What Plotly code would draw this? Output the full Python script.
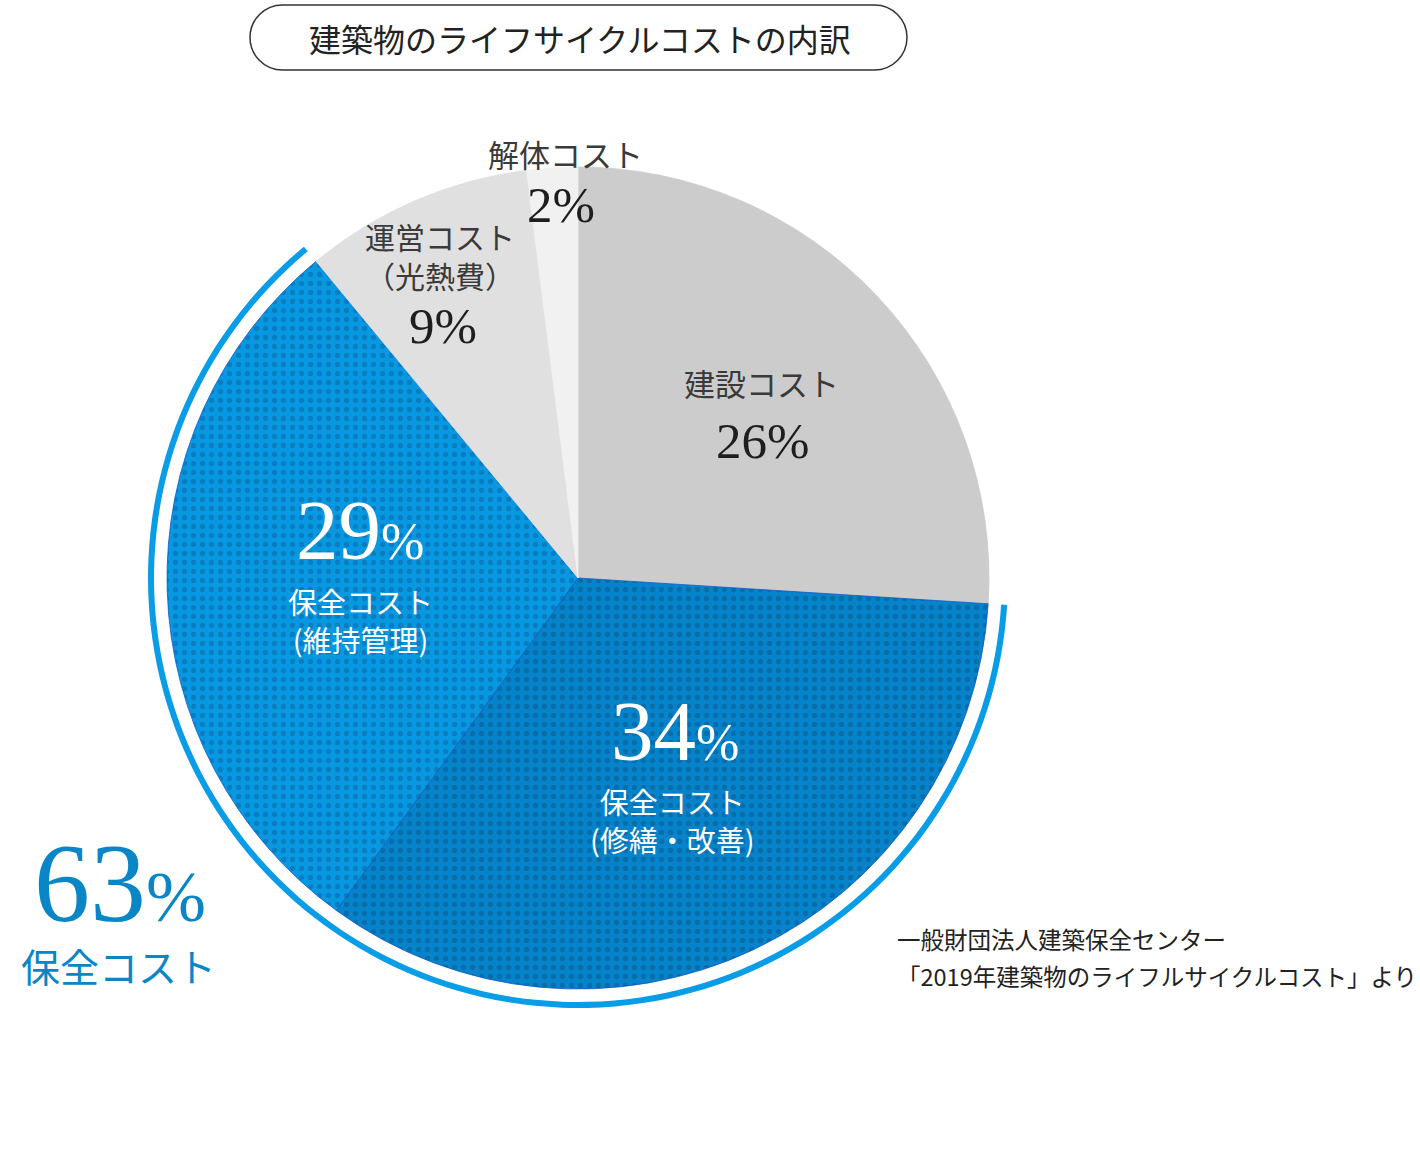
import plotly.graph_objects as go

W, H = 1420, 1158

# data
categories = ['建設コスト', '保全コスト(修繕・改善)', '保全コスト(維持管理)', '運営コスト(光熱費)', '解体コスト']
shares = [26, 34, 29, 9, 2]
slice_colors = ['#cccccc', '#0584cb', '#0798e2', '#e0e0e0', '#f1f1f1']
dot_colors = ['#cccccc', '#09568c', '#0a62a0', '#e0e0e0', '#f1f1f1']
maint_total = shares[1] + shares[2]

title_text = '建築物のライフサイクルコストの内訳'
source_lines = ['一般財団法人建築保全センター', '「2019年建築物のライフルサイクルコスト」より']

CJK = 'Noto Sans CJK JP, Noto Sans, sans-serif'
SERIF = 'Liberation Serif, DejaVu Serif, serif'


def px(x):
    return x / W


def py(y):
    return 1 - y / H


def dom(cx, cy, r):
    return dict(x=[px(cx - r), px(cx + r)], y=[py(cy + r), py(cy - r)])


fig = go.Figure()

# outer ring marking the two maintenance slices
fig.add_trace(go.Pie(
    values=[shares[0], maint_total, sum(shares[3:])],
    sort=False, direction='clockwise', rotation=0,
    hole=0.986,
    marker=dict(colors=['rgba(0,0,0,0)', '#089de6', 'rgba(0,0,0,0)'], line=dict(width=0)),
    textinfo='none', hoverinfo='skip', showlegend=False,
    domain=dom(578, 578, 430),
))

# main pie
fig.add_trace(go.Pie(
    labels=categories, values=shares,
    sort=False, direction='clockwise', rotation=0,
    marker=dict(
        colors=slice_colors,
        line=dict(color=['#cccccc', '#1459c4', '#1459c4', '#e0e0e0', '#f1f1f1'], width=0.8),
        pattern=dict(shape=['', '.', '.', '', ''], fgcolor=dot_colors, bgcolor=slice_colors,
                     size=9, solidity=0.28, fillmode='overlay'),
    ),
    textinfo='none', hoverinfo='label+percent', showlegend=False,
    domain=dom(578, 578, 411),
))

ann = []


def label(text, x, y, size, color, family=CJK, xanchor='center'):
    ann.append(dict(text=text, x=px(x), y=py(y), xref='paper', yref='paper',
                    xanchor=xanchor, yanchor='middle', showarrow=False,
                    font=dict(size=size, color=color, family=family)))


def pct(v, small=None):
    return f"{v}<span style='font-size:{small}px'>%</span>" if small else f"{v}%"


# grey slices
label(categories[4], 565, 153, 31, '#3a3a3a')
label(pct(shares[4]), 561, 205, 51, '#1e1e1e', SERIF)
label('運営コスト<br>（光熱費）', 440, 255, 30, '#3a3a3a')
label(pct(shares[3]), 443, 326, 51, '#1e1e1e', SERIF)
label(categories[0], 762, 383, 31, '#3a3a3a')
label(pct(shares[0]), 763, 441, 51, '#1e1e1e', SERIF)

# blue slices
label(pct(shares[2], 52), 360, 530, 85, 'white', SERIF)
label('保全コスト<br>(維持管理)', 360, 620, 29, 'white')
label(pct(shares[1], 52), 675, 731, 85, 'white', SERIF)
label('保全コスト<br>(修繕・改善)', 672, 820, 29, 'white')

# total maintenance
label(pct(maint_total, 72), 120, 883, 112, '#0a86c6', SERIF)
label('保全コスト', 118, 965, 39, '#0a86c6')

# source
label(source_lines[0], 895, 939, 23.5, '#222222', xanchor='left')
label(source_lines[1], 895, 976, 23.5, '#222222', xanchor='left')

# title pill
label(title_text, 580, 38, 32, '#222222')

x0, x1, y0, y1 = 250, 907, 5, 70
r = (y1 - y0) / 2
k = 0.5523 * r
pill = (
    f"M {px(x0 + r)} {py(y0)} L {px(x1 - r)} {py(y0)} "
    f"C {px(x1 - r + k)} {py(y0)} {px(x1)} {py(y0 + r - k)} {px(x1)} {py(y0 + r)} "
    f"C {px(x1)} {py(y0 + r + k)} {px(x1 - r + k)} {py(y1)} {px(x1 - r)} {py(y1)} "
    f"L {px(x0 + r)} {py(y1)} "
    f"C {px(x0 + r - k)} {py(y1)} {px(x0)} {py(y1 - r + k)} {px(x0)} {py(y1 - r)} "
    f"C {px(x0)} {py(y0 + r - k)} {px(x0 + r - k)} {py(y0)} {px(x0 + r)} {py(y0)} Z"
)

fig.update_layout(
    width=W, height=H,
    margin=dict(l=0, r=0, t=0, b=0),
    paper_bgcolor='white', plot_bgcolor='white',
    annotations=ann,
    shapes=[dict(type='path', path=pill, xref='paper', yref='paper',
                 line=dict(color='#333333', width=1.5), fillcolor='rgba(0,0,0,0)')],
)

# drop the default body margin so the figure sits at the page corner
fig.write_html("out.html", config={'displayModeBar': False},
               post_script="document.body.style.margin='0';")
